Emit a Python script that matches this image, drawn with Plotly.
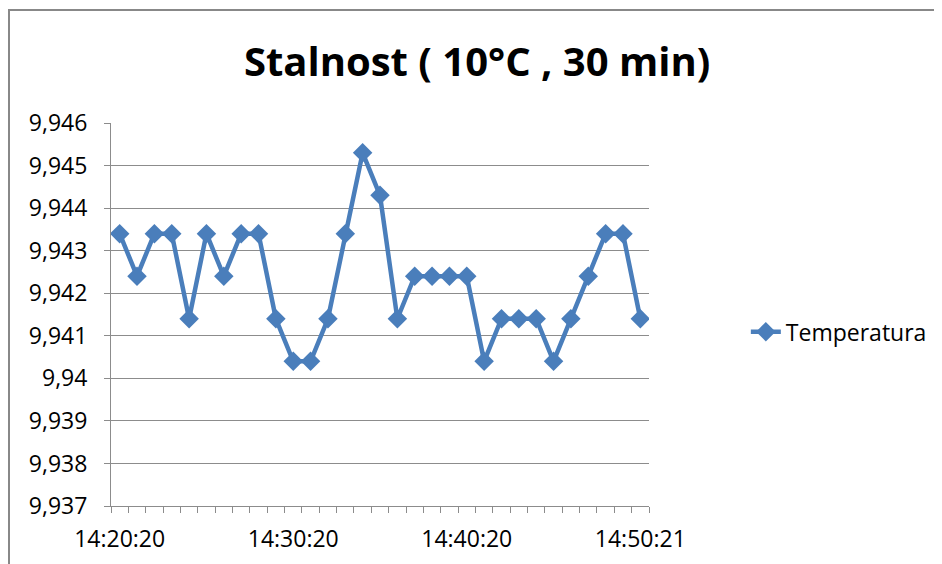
import plotly.graph_objects as go

title = "Stalnost ( 10°C , 30 min)"
series_name = "Temperatura"
values = [9.9434, 9.9424, 9.9434, 9.9434, 9.9414, 9.9434, 9.9424, 9.9434, 9.9434, 9.9414,
          9.9404, 9.9404, 9.9414, 9.9434, 9.9453, 9.9443, 9.9414, 9.9424, 9.9424, 9.9424,
          9.9424, 9.9404, 9.9414, 9.9414, 9.9414, 9.9404, 9.9414, 9.9424, 9.9434, 9.9434,
          9.9414]
x_tick_pos = [0, 10, 20, 30]
x_tick_labels = ["14:20:20", "14:30:20", "14:40:20", "14:50:21"]
y_tick_vals = [9.937, 9.938, 9.939, 9.940, 9.941, 9.942, 9.943, 9.944, 9.945, 9.946]
y_tick_labels = ["9,937", "9,938", "9,939", "9,94", "9,941", "9,942", "9,943", "9,944", "9,945", "9,946"]

FONT = "Open Sans, Lato, sans-serif"
BLUE = "#4A7EBB"
GRID = "#8C8C8C"

x = list(range(len(values)))

fig = go.Figure()
fig.add_trace(go.Scatter(
    x=x, y=values, name=series_name, mode="lines+markers",
    line=dict(color=BLUE, width=4.5),
    marker=dict(symbol="diamond", size=15, color=BLUE),
))

fig.update_layout(
    width=942, height=564,
    margin=dict(l=103, r=301, t=115, b=66),
    paper_bgcolor="white", plot_bgcolor="white",
    font=dict(family=FONT, size=23, color="black"),
    title=dict(text="<b>" + title + "</b>", x=0.498, xanchor="center", y=0.905, yanchor="middle",
               font=dict(family=FONT, size=40, color="black")),
    showlegend=True,
    legend=dict(x=1.18, y=0.455, xanchor="left", yanchor="middle",
                font=dict(family=FONT, size=23, color="black"),
                bgcolor="rgba(0,0,0,0)"),
    shapes=[dict(type="rect", xref="paper", yref="paper",
                 x0=-0.1896, x1=2.0, y0=-1.0, y1=1.295,
                 line=dict(color="#888888", width=2), layer="below")],
)

fig.update_xaxes(
    range=[-0.5, 30.5], showgrid=False, zeroline=False,
    showline=True, linecolor=GRID, linewidth=1,
    tickmode="array", tickvals=x_tick_pos, ticktext=x_tick_labels,
    ticks="", ticklen=0,
    minor=dict(tickmode="linear", tick0=0.5, dtick=1, ticks="outside", ticklen=6,
               tickcolor=GRID, tickwidth=1, showgrid=False),
    tickfont=dict(family=FONT, size=23, color="black"),
    ticklabelstandoff=12,
)
fig.update_yaxes(
    range=[9.937, 9.946], showgrid=True, gridcolor=GRID, gridwidth=1, zeroline=False,
    showline=True, linecolor=GRID, linewidth=1,
    tickmode="array", tickvals=y_tick_vals, ticktext=y_tick_labels,
    ticks="outside", ticklen=6, tickcolor=GRID,
    tickfont=dict(family=FONT, size=23, color="black"),
    ticklabelstandoff=12,
)

fig.write_html("out.html")
